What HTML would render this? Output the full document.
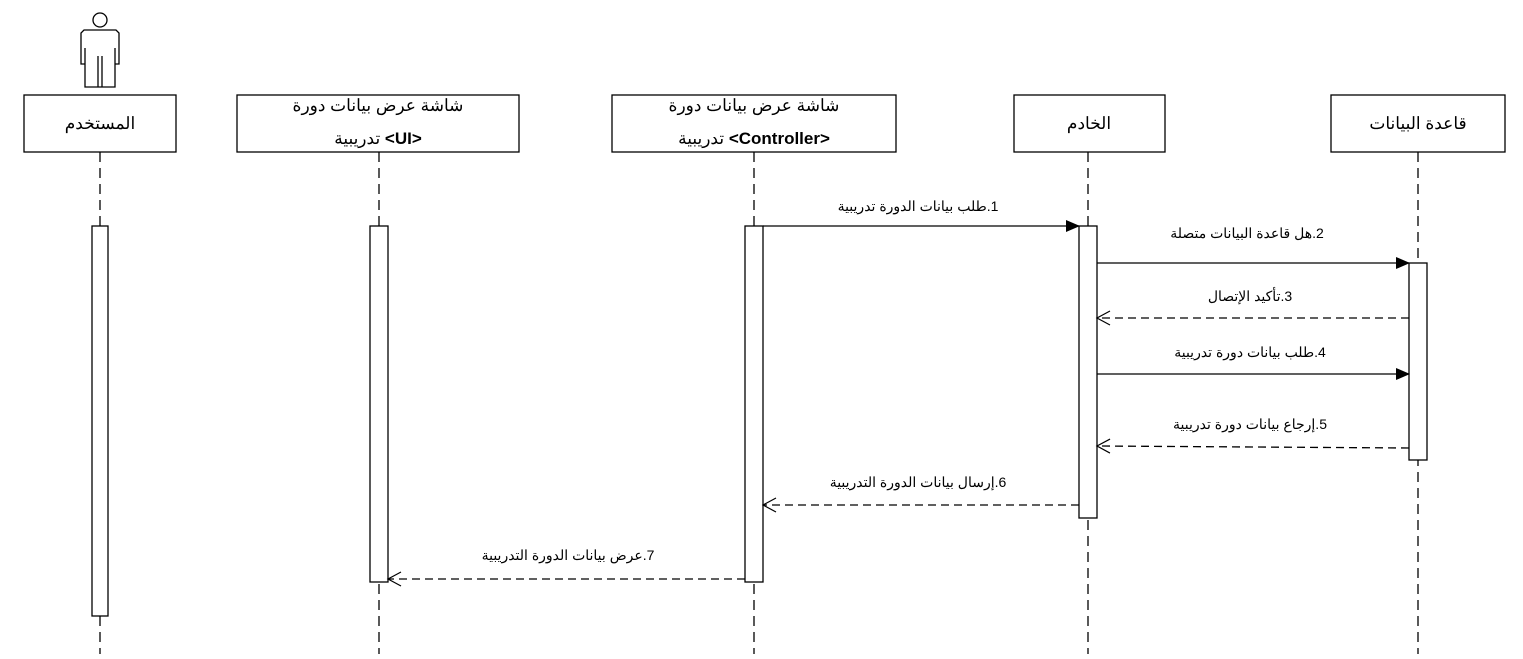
<!DOCTYPE html>
<html><head><meta charset="utf-8"><style>
body{margin:0;background:#fff;width:1523px;height:654px;overflow:hidden}
svg text{font-family:"Liberation Sans","Noto Sans CJK SC",sans-serif;fill:#000}
</style></head><body>
<svg width="1523" height="654" xmlns="http://www.w3.org/2000/svg">
<defs>
<marker id="f" markerWidth="14" markerHeight="12" refX="13" refY="6" orient="auto" markerUnits="userSpaceOnUse"><path d="M0,0 L14,6 L0,12 z" fill="#000"/></marker>
<marker id="o" markerWidth="16" markerHeight="16" refX="14" refY="8" orient="auto" markerUnits="userSpaceOnUse"><path d="M1,1 L14,8 L1,15" fill="none" stroke="#000" stroke-width="1.2"/></marker>
</defs>
<g stroke="#000" fill="none" stroke-width="1.3">
<circle cx="100" cy="20" r="7"/>
<path d="M84,30 L116,30 L119,33 L119,64 L115,64 L115,87 L85,87 L85,64 L81,64 L81,33 Z M85,48 L85,64 M115,48 L115,64 M98,56 L98,87 M102,56 L102,87"/>
</g>
<g stroke="#000" stroke-width="1.3" stroke-dasharray="10,6">
<line x1="100" y1="152" x2="100" y2="654"/>
<line x1="379" y1="152" x2="379" y2="654"/>
<line x1="754" y1="152" x2="754" y2="654"/>
<line x1="1088" y1="152" x2="1088" y2="654"/>
<line x1="1418" y1="152" x2="1418" y2="654"/>
</g>
<g stroke="#000" fill="#fff" stroke-width="1.3">
<rect x="24" y="95" width="152" height="57"/>
<rect x="237" y="95" width="282" height="57"/>
<rect x="612" y="95" width="284" height="57"/>
<rect x="1014" y="95" width="151" height="57"/>
<rect x="1331" y="95" width="174" height="57"/>
<rect x="92" y="226" width="16" height="390"/>
<rect x="370" y="226" width="18" height="356"/>
<rect x="745" y="226" width="18" height="356"/>
<rect x="1079" y="226" width="18" height="292"/>
<rect x="1409" y="263" width="18" height="197"/>
</g>
<g font-size="17" text-anchor="middle">
<text x="100" y="129">المستخدم</text>
<text x="378" y="111">شاشة عرض بيانات دورة</text>
<text x="378" y="144">تدريبية <tspan font-weight="bold">&lt;UI&gt;</tspan></text>
<text x="754" y="111">شاشة عرض بيانات دورة</text>
<text x="754" y="144">تدريبية <tspan font-weight="bold">&lt;Controller&gt;</tspan></text>
<text x="1089" y="129">الخادم</text>
<text x="1418" y="129">قاعدة البيانات</text>
</g>
<g stroke="#000" stroke-width="1.3">
<line x1="763" y1="226" x2="1079" y2="226" marker-end="url(#f)"/>
<line x1="1097" y1="263" x2="1409" y2="263" marker-end="url(#f)"/>
<line x1="1409" y1="318" x2="1097" y2="318" stroke-dasharray="8,5" marker-end="url(#o)"/>
<line x1="1097" y1="374" x2="1409" y2="374" marker-end="url(#f)"/>
<line x1="1409" y1="448" x2="1097" y2="446" stroke-dasharray="8,5" marker-end="url(#o)"/>
<line x1="1079" y1="505" x2="763" y2="505" stroke-dasharray="8,5" marker-end="url(#o)"/>
<line x1="745" y1="579" x2="388" y2="579" stroke-dasharray="8,5" marker-end="url(#o)"/>
</g>
<g font-size="14" text-anchor="middle" direction="rtl">
<text x="918" y="211">1.طلب بيانات الدورة  تدريبية</text>
<text x="1247" y="238">2.هل قاعدة البيانات متصلة</text>
<text x="1250" y="301">3.تأكيد الإتصال</text>
<text x="1250" y="357">4.طلب بيانات دورة تدريبية</text>
<text x="1250" y="429">5.إرجاع بيانات دورة تدريبية</text>
<text x="918" y="487">6.إرسال بيانات الدورة التدريبية</text>
<text x="568" y="560">7.عرض بيانات الدورة التدريبية</text>
</g>
</svg>
</body></html>
